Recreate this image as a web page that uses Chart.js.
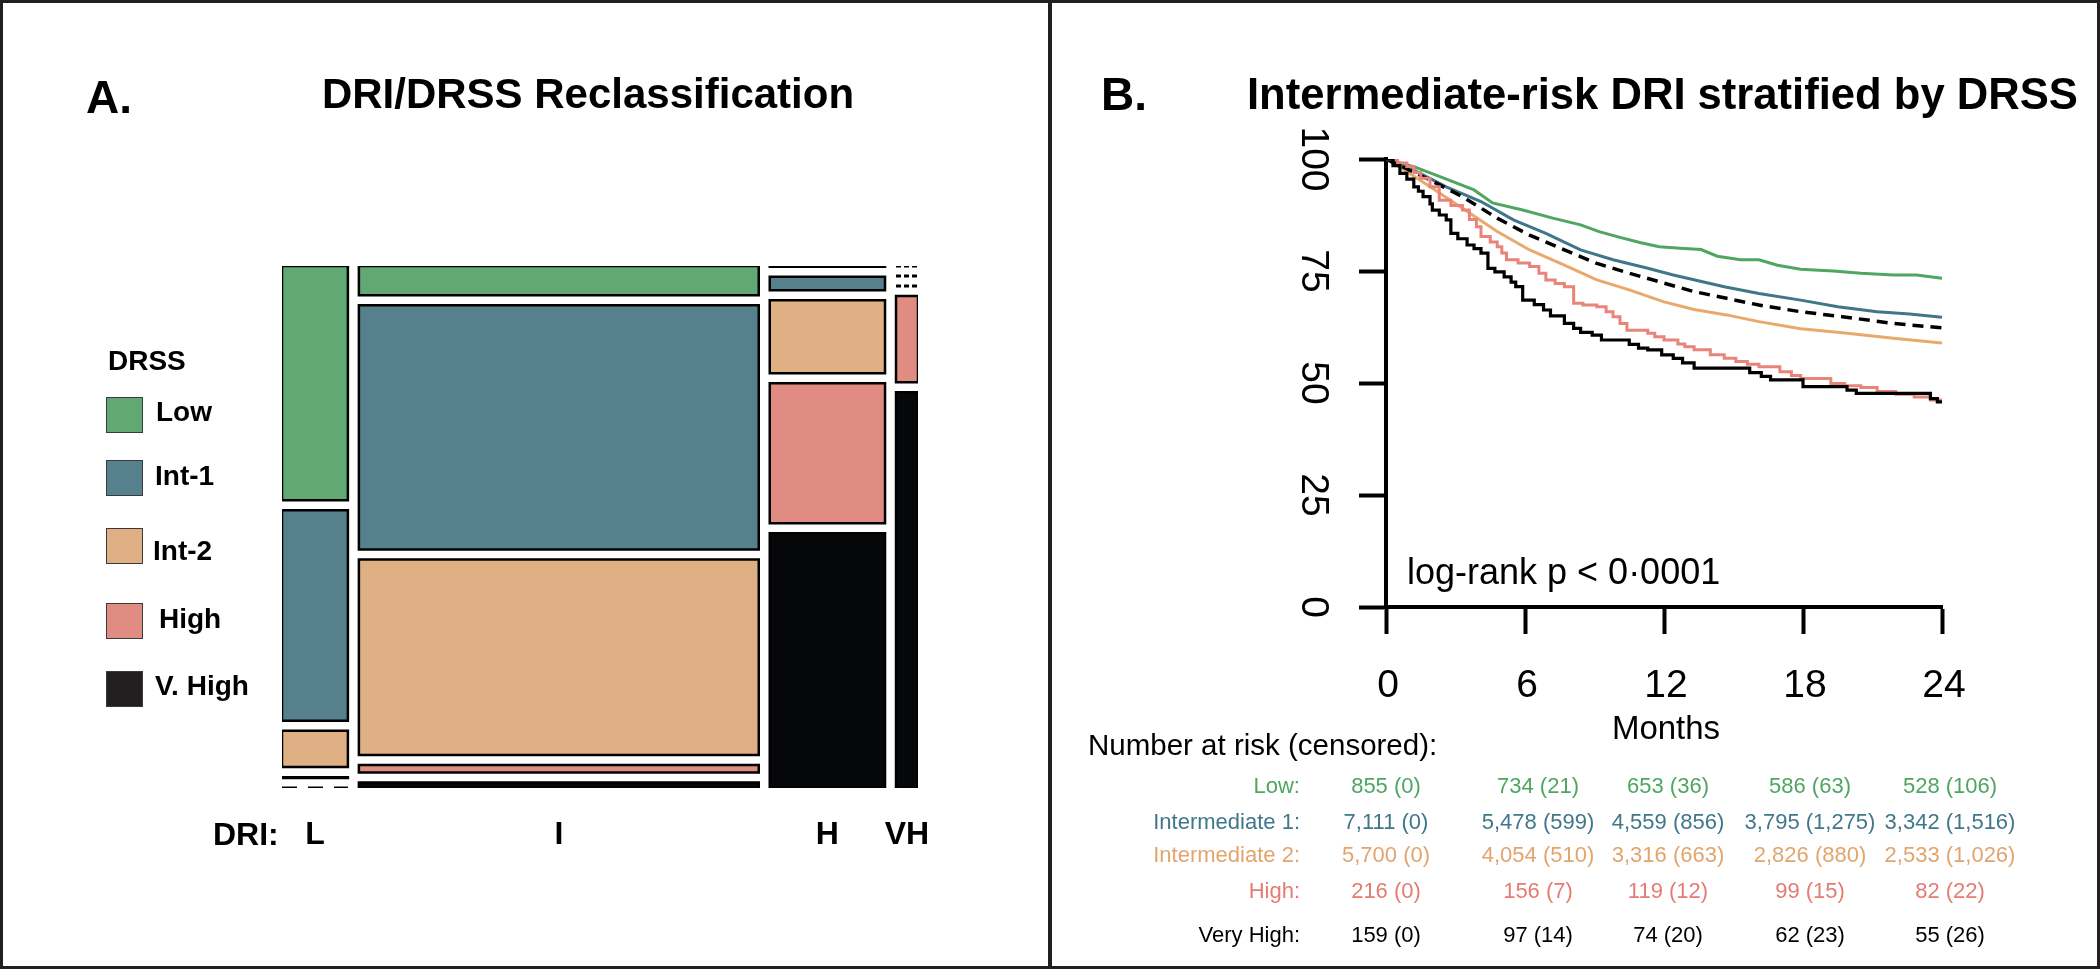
<!DOCTYPE html>
<html>
<head>
<meta charset="utf-8">
<script src="https://cdn.jsdelivr.net/npm/chart.js@4.4.1/dist/chart.umd.min.js"></script>
<style>
  body { margin: 0; background: #fff; }
  #fig { position: relative; width: 2100px; height: 969px; overflow: hidden; background: #fff;
         font-family: "Liberation Sans", Arial, sans-serif; color: #000; }
  .t { position: absolute; white-space: nowrap; }
  .frame { position: absolute; left: 0; top: 0; width: 2100px; height: 969px; box-sizing: border-box;
           border: 3px solid #231f20; pointer-events: none; }
  .divider { position: absolute; left: 1048px; top: 0; width: 4px; height: 969px; background: #231f20; }
  .swatch { position: absolute; left: 106px; width: 37px; height: 36px; box-sizing: border-box; border: 1.5px solid #3a3a3a; }
  canvas { position: absolute; }
</style>
</head>
<body>
<div id="fig">
  <canvas id="mosaic" width="760" height="640" style="left:180px;top:240px;"></canvas>
  <canvas id="km" width="840" height="620" style="left:1200px;top:120px;"></canvas>
  <div class="divider"></div>
  <div class="frame"></div>
</div>
<script>
// Panel A: DRI (columns) by DRSS (rows), patient counts
const driCategories = ['L', 'I', 'H', 'VH'];
const drssCategories = ['Low', 'Int-1', 'Int-2', 'High', 'V. High'];
const countsL = [1125, 1010, 175, 4, 0];
const countsI = [855, 7111, 5700, 216, 159];
const countsH = [6, 113, 614, 1175, 2140];
const countsVH = [0, 0, 0, 138, 634];

// Panel B: Kaplan-Meier survival (%) by month, intermediate-risk DRI
const lowMonths = [0, 0.5, 1.2, 2.3, 3.8, 4.6, 5.9, 7.2, 8.4, 9.2, 10.1, 11, 11.8, 12.7, 13.6, 14.3, 15.3, 16.1, 16.9, 17.9, 19.3, 20.5, 21.9, 22.9, 24];
const lowSurv = [100, 99.3, 98.3, 96.1, 93.1, 90.2, 88.6, 86.8, 85.3, 83.8, 82.5, 81.3, 80.4, 80.1, 79.8, 78.3, 77.5, 77.5, 76.3, 75.4, 75.0, 74.5, 74.1, 74.1, 73.4];
const int1Months = [0, 1.2, 2.6, 4.1, 5.5, 6.9, 8.4, 9.8, 11.3, 12.4, 14.6, 16.1, 17.9, 19.5, 21.2, 22.6, 24];
const int1Surv = [100, 97.5, 93.8, 90.5, 86.4, 83.4, 79.7, 77.5, 75.6, 74.1, 71.5, 70.0, 68.5, 67.0, 65.9, 65.4, 64.7];
const allMonths = [0, 1.9, 3.3, 4.8, 6.2, 7.7, 9.1, 10.5, 12, 13.3, 14.7, 16.1, 17.9, 19.7, 21.9, 24];
const allSurv = [100, 95.3, 91.6, 86.8, 83.0, 79.7, 76.7, 74.5, 72.3, 70.4, 68.9, 67.4, 65.9, 64.8, 63.3, 62.3];
const int2Months = [0, 0.9, 1.9, 3.3, 4.8, 6.2, 7.7, 9.1, 10.5, 12, 13.3, 14.7, 16.1, 17.9, 19.7, 21.9, 24];
const int2Surv = [100, 97.2, 93.8, 89.0, 83.8, 79.7, 76.3, 73.0, 70.8, 68.1, 66.4, 65.2, 63.7, 62.1, 61.2, 60.0, 58.9];
const highMonths = [0, 0.5, 0.9, 1.2, 1.5, 1.9, 2.3, 2.8, 3.3, 3.6, 3.9, 4.1, 4.5, 4.8, 5.0, 5.2, 5.7, 6.2, 6.6, 6.9, 7.3, 7.7, 8.1, 8.5, 9.1, 9.5, 9.8, 10.1, 10.4, 11.3, 11.6, 12, 12.6, 12.9, 13.3, 14, 14.6, 15.1, 15.6, 16.1, 17, 17.5, 17.9, 19.2, 19.8, 20.5, 21.2, 22, 22.8, 23.5, 24];
const highSurv = [100, 99.1, 98.3, 97.0, 95.7, 93.8, 90.8, 89.6, 88.6, 86.5, 84.9, 82.7, 81.5, 80.4, 79.0, 77.5, 76.8, 76.0, 74.5, 73.0, 72.2, 71.5, 67.8, 67.4, 67.0, 65.9, 64.8, 63.3, 61.8, 61.1, 60.3, 59.6, 58.7, 58.1, 57.4, 56.3, 55.5, 54.8, 54.2, 53.6, 52.5, 51.7, 51.0, 49.9, 49.4, 49.0, 48.1, 47.5, 46.9, 46.2, 46.2];
const vhighMonths = [0, 0.3, 0.6, 0.9, 1.2, 1.4, 1.6, 1.9, 2.0, 2.3, 2.6, 2.8, 3.1, 3.5, 3.8, 4.1, 4.4, 4.7, 5.1, 5.4, 5.6, 5.9, 6.4, 6.8, 7.1, 7.7, 8.1, 8.4, 8.9, 9.3, 10.5, 10.9, 11.3, 11.9, 12.4, 12.8, 13.3, 15.7, 16.2, 16.6, 18, 19.9, 20.3, 23.5, 23.8, 24];
const vhighSurv = [100, 98.5, 96.8, 95.5, 93.8, 92.8, 91.6, 90.0, 88.6, 87.5, 86.4, 83.4, 82.2, 80.8, 80.0, 79.0, 75.6, 74.8, 73.7, 72.5, 71.5, 68.5, 67.5, 66.3, 65.0, 63.3, 62.2, 61.3, 60.7, 59.6, 58.6, 57.8, 57.4, 56.3, 55.5, 54.5, 53.3, 52.3, 51.5, 50.7, 49.2, 48.4, 47.7, 46.5, 45.8, 45.8];

// Number at risk table
const riskTimes = [0, 6, 12, 18, 24];
const riskGroups = ['Low:', 'Intermediate 1:', 'Intermediate 2:', 'High:', 'Very High:'];
const riskLow = ['855 (0)', '734 (21)', '653 (36)', '586 (63)', '528 (106)'];
const riskInt1 = ['7,111 (0)', '5,478 (599)', '4,559 (856)', '3,795 (1,275)', '3,342 (1,516)'];
const riskInt2 = ['5,700 (0)', '4,054 (510)', '3,316 (663)', '2,826 (880)', '2,533 (1,026)'];
const riskHigh = ['216 (0)', '156 (7)', '119 (12)', '99 (15)', '82 (22)'];
const riskVHigh = ['159 (0)', '97 (14)', '74 (20)', '62 (23)', '55 (26)'];

const FONT = '"Liberation Sans", Arial, sans-serif';
Chart.defaults.font.family = FONT;

const fillColors = ['#62a874', '#56808c', '#dfb083', '#e08c82', '#060708'];
const swatchColors = ['#62a874', '#56808c', '#dfb083', '#e08c82', '#231f20'];
const lineColors = { low: '#4ea661', int1: '#3f7689', int2: '#e9a96c', high: '#e8847a', vhigh: '#000000' };
const textColors = ['#4ea661', '#41778a', '#e2a56e', '#e57c72', '#000000'];

const fig = document.getElementById('fig');
function text(str, x, baseline, size, opts = {}) {
  const d = document.createElement('div');
  d.className = 't';
  d.textContent = str;
  d.style.fontSize = size + 'px';
  d.style.lineHeight = size + 'px';
  d.style.fontWeight = opts.bold ? 'bold' : 'normal';
  d.style.color = opts.color || '#000';
  d.style.top = (baseline - 0.8465 * size) + 'px';
  d.style.left = x + 'px';
  if (opts.align === 'center') d.style.transform = 'translateX(-50%)';
  if (opts.align === 'right') d.style.transform = 'translateX(-100%)';
  fig.appendChild(d);
}

// ---- Panel A text and legend
text('A.', 86, 113, 46, { bold: true });
text('DRI/DRSS Reclassification', 588, 109, 42, { bold: true, align: 'center' });
text('DRSS', 108, 371, 28, { bold: true });
const swatchTops = [397, 460, 528, 603, 671];
const legendLeft = [156, 155, 153, 159, 155];
const legendBase = [422, 486, 561, 629, 696];
drssCategories.forEach((c, i) => {
  const s = document.createElement('div');
  s.className = 'swatch';
  s.style.top = swatchTops[i] + 'px';
  s.style.background = swatchColors[i];
  fig.appendChild(s);
  text(c, legendLeft[i], legendBase[i], 28, { bold: true });
});
text('DRI:', 213, 845, 32, { bold: true });

// ---- Panel A mosaic
const columns = [countsL, countsI, countsH, countsVH];
const colGap = 386;      // gap between columns, in count units
const rowGap = 0.0192;   // gap between cells, as a share of column height
const mosaicSets = [];
const colCenters = [];
let x0 = 0;
columns.forEach((col, ci) => {
  const total = col.reduce((a, b) => a + b, 0);
  const x1 = x0 + total;
  colCenters.push((x0 + x1) / 2);
  let y = 0;
  col.forEach((n, ri) => {
    const h = (1 - (col.length - 1) * rowGap) * n / total;
    if (n === 0) {
      mosaicSets.push({
        data: [{ x: x0, y: y }, { x: x1, y: y }],
        borderColor: '#000', borderWidth: 3, borderDash: ci === 3 ? [5, 3] : [15, 11],
        pointRadius: 0, fill: false
      });
    } else {
      mosaicSets.push({
        data: [{ x: x0, y: y }, { x: x1, y: y }, { x: x1, y: y + h }, { x: x0, y: y + h }, { x: x0, y: y }],
        borderColor: '#000', borderWidth: 2.5, backgroundColor: fillColors[ri],
        borderJoinStyle: 'miter', borderCapStyle: 'square',
        pointRadius: 0, fill: 'shape'
      });
    }
    y += h + rowGap;
  });
  x0 = x1 + colGap;
});
const mosaicWidth = x0 - colGap;

new Chart(document.getElementById('mosaic'), {
  type: 'line',
  data: { datasets: mosaicSets },
  options: {
    responsive: false, animation: false, devicePixelRatio: 1,
    layout: { padding: { left: 102, right: 22, top: 26, bottom: 0 } },
    plugins: { legend: { display: false }, tooltip: { enabled: false } },
    scales: {
      x: {
        type: 'linear', min: 0, max: mosaicWidth,
        afterFit: s => { s.height = 92; s.paddingLeft = 0; s.paddingRight = 0; },
        afterBuildTicks: s => { s.ticks = colCenters.map(v => ({ value: v })); },
        ticks: { callback: (v, i) => driCategories[i], autoSkip: false, maxRotation: 0,
                 font: { size: 32, weight: 'bold' }, color: '#000', padding: 28 },
        grid: { display: false, drawTicks: false },
        border: { display: false }
      },
      y: { type: 'linear', min: 0, max: 1, reverse: true, display: false }
    }
  }
});

// ---- Panel B text
text('B.', 1101, 110, 46, { bold: true });
text('Intermediate-risk DRI stratified by DRSS', 1247, 110, 43.6, { bold: true });
text('log-rank p < 0\u00b70001', 1407, 584, 36);
text('Months', 1666, 739, 33, { align: 'center' });
text('Number at risk (censored):', 1088, 755, 29.5);
const riskRows = [riskLow, riskInt1, riskInt2, riskHigh, riskVHigh];
const rowBase = [794, 829.5, 862.5, 898.5, 942.5];
const colX = [1386, 1538, 1668, 1810, 1950];
riskGroups.forEach((g, r) => {
  text(g, 1300, rowBase[r], 22, { align: 'right', color: textColors[r] });
  riskRows[r].forEach((v, c) => text(v, colX[c], rowBase[r], 22, { align: 'center', color: textColors[r] }));
});

// ---- Panel B Kaplan-Meier
const pts = (t, s) => t.map((m, i) => ({ x: m, y: s[i] }));
const axisGrid = { drawOnChartArea: false, drawTicks: true, tickLength: 27, tickWidth: 4, tickColor: '#000' };
const axisBorder = { display: true, width: 4, color: '#000' };

new Chart(document.getElementById('km'), {
  type: 'line',
  data: {
    datasets: [
      { label: 'Very High', data: pts(vhighMonths, vhighSurv), borderColor: lineColors.vhigh, borderWidth: 3.2, stepped: true },
      { label: 'High', data: pts(highMonths, highSurv), borderColor: lineColors.high, borderWidth: 3, stepped: true },
      { label: 'Intermediate-risk DRI', data: pts(allMonths, allSurv), borderColor: '#000', borderWidth: 3.5, borderDash: [11, 7] },
      { label: 'Int-2', data: pts(int2Months, int2Surv), borderColor: lineColors.int2, borderWidth: 3 },
      { label: 'Int-1', data: pts(int1Months, int1Surv), borderColor: lineColors.int1, borderWidth: 3 },
      { label: 'Low', data: pts(lowMonths, lowSurv), borderColor: lineColors.low, borderWidth: 3 }
    ].map(d => Object.assign({ pointRadius: 0, fill: false, tension: 0 }, d))
  },
  options: {
    responsive: false, animation: false, devicePixelRatio: 1,
    layout: { padding: { top: 39, right: 98, left: 0, bottom: 0 } },
    plugins: { legend: { display: false }, tooltip: { enabled: false } },
    scales: {
      x: {
        type: 'linear', min: 0, max: 24,
        afterFit: s => { s.height = 133; },
        afterBuildTicks: s => { s.ticks = riskTimes.map(v => ({ value: v })); },
        ticks: { font: { size: 39 }, color: '#000', padding: 29, labelOffset: 2, maxRotation: 0, autoSkip: false },
        grid: axisGrid, border: axisBorder
      },
      y: {
        type: 'linear', min: 0, max: 100,
        afterFit: s => { s.width = 186; },
        ticks: { stepSize: 25, font: { size: 39 }, color: '#000', padding: 14,
                 minRotation: -90, maxRotation: -90, crossAlign: 'center' },
        grid: axisGrid, border: axisBorder
      }
    }
  }
});
</script>
</body>
</html>
